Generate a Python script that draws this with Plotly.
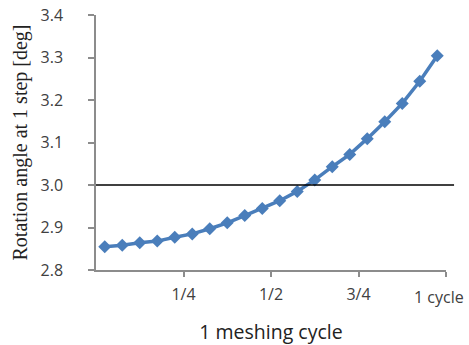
import plotly.graph_objects as go

# Data
n_steps = 20
step_positions = [(i + 0.5) / n_steps for i in range(n_steps)]
rotation_angle = [2.855, 2.858, 2.864, 2.868, 2.877, 2.885, 2.897, 2.911, 2.928, 2.945,
                  2.963, 2.985, 3.012, 3.043, 3.072, 3.109, 3.149, 3.192, 3.244, 3.304]
x_tick_vals = [0.25, 0.5, 0.75, 1.0]
x_tick_text = ["1/4", "1/2", "3/4", "1 cycle"]
y_tick_vals = [2.8, 2.9, 3.0, 3.1, 3.2, 3.3, 3.4]
y_tick_text = ["2.8", "2.9", "3.0", "3.1", "3.2", "3.3", "3.4"]
reference_value = 3.0

blue = "#4a7ebb"
axis_gray = "#8c8c8c"
text_col = "#404040"

fig = go.Figure()
fig.add_trace(go.Scatter(
    x=step_positions, y=rotation_angle, mode="lines+markers",
    line=dict(color=blue, width=3.5),
    marker=dict(symbol="diamond", size=10, color=blue),
    showlegend=False, cliponaxis=False, hoverinfo="skip",
))

fig.add_shape(type="line", xref="paper", yref="y",
              x0=0, x1=1.023, y0=reference_value, y1=reference_value,
              line=dict(color="black", width=1.5))

# last tick label placed as annotation (shifted left like the original)
fig.add_annotation(x=x_tick_vals[-1], xref="x", y=0, yref="paper",
                   text=x_tick_text[-1], showarrow=False,
                   xanchor="center", yanchor="middle", xshift=-7, yshift=-27,
                   font=dict(family="Open Sans", size=16, color=text_col))

fig.update_layout(
    width=469, height=345,
    margin=dict(l=96, r=23, t=15, b=75),
    paper_bgcolor="white", plot_bgcolor="white",
    font=dict(family="Open Sans", color=text_col),
    xaxis=dict(
        range=[0, 1], tickvals=x_tick_vals, ticktext=x_tick_text[:-1] + [""],
        showline=True, linecolor=axis_gray, linewidth=1.5,
        ticks="outside", ticklen=5, tickcolor=axis_gray, tickwidth=1.5,
        showgrid=False, zeroline=False, automargin=False,
        tickfont=dict(size=16, color=text_col), ticklabelstandoff=4,
        title=dict(text="1 meshing cycle", font=dict(size=19.5, color="#222222"), standoff=21),
    ),
    yaxis=dict(
        range=[2.8, 3.4], tickvals=y_tick_vals, ticktext=y_tick_text,
        showline=True, linecolor=axis_gray, linewidth=1.5,
        ticks="outside", ticklen=6, tickcolor=axis_gray, tickwidth=1.5,
        showgrid=False, zeroline=False, automargin=False,
        tickfont=dict(size=16, color=text_col), ticklabelstandoff=22,
        title=dict(text="Rotation angle at 1 step [deg]",
                   font=dict(family="Liberation Serif", size=20, color="#222222"), standoff=8),
    ),
)

# remove the default page margin so the figure sits at the window origin
fig.write_html("out.html", config={"displayModeBar": False},
               post_script="document.body.style.margin='0';")
